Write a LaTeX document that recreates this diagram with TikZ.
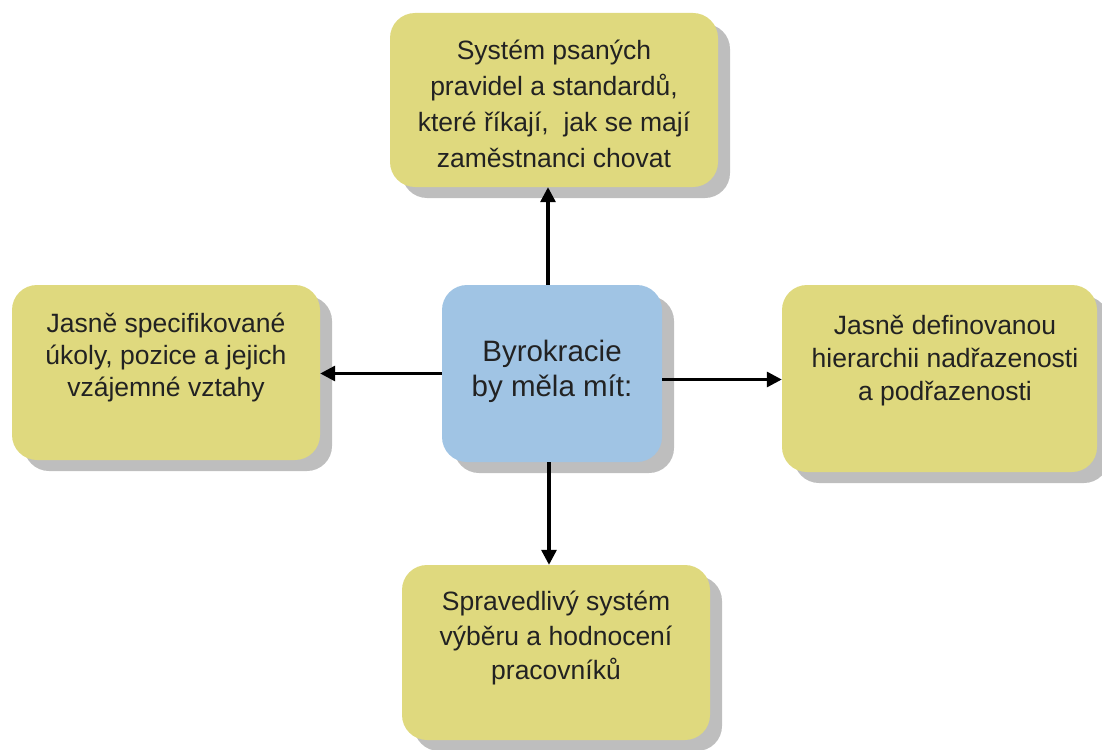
\documentclass[tikz,border=0pt]{standalone}
\usepackage{fontspec}
\setmainfont{Liberation Sans}
\usetikzlibrary{shadows,arrows.meta}

\definecolor{boxyellow}{HTML}{DFD97E}
\definecolor{boxblue}{HTML}{A0C4E4}
\definecolor{shadegray}{HTML}{BEBEBE}
\definecolor{inkdark}{HTML}{222222}

\tikzset{
  card/.style={draw=none, rounded corners=25pt, inner sep=0pt,
    drop shadow={shadow xshift=12pt, shadow yshift=-11pt, fill=shadegray, opacity=1}},
  yellowcard/.style={card, fill=boxyellow},
  bluecard/.style={card, fill=boxblue},
  cardtext/.style={align=center, text=inkdark, inner sep=0pt},
  link/.style={-{Triangle[length=15pt,width=15pt]}, line width=3.2pt, draw=black}
}

\begin{document}
\begin{tikzpicture}[x=1pt,y=-1pt]
  \useasboundingbox (0,0) rectangle (1102,749);

  % boxes
  \node[yellowcard, minimum width=328pt, minimum height=174pt] (top) at (554,100) {};
  \node[yellowcard, minimum width=308pt, minimum height=175pt] (left) at (166,372.5) {};
  \node[yellowcard, minimum width=315pt, minimum height=187pt] (right) at (939.5,378.5) {};
  \node[yellowcard, minimum width=308pt, minimum height=175pt] (bottom) at (556,652.5) {};
  \node[bluecard, minimum width=220pt, minimum height=177pt] (center) at (552,373.5) {};

  % connectors from the central box
  \draw[link] ([xshift=-4pt]center.north) -- ([xshift=-4pt]center.north |- top.south);
  \draw[link] ([xshift=-3pt]center.south) -- ([xshift=-3pt]center.south |- bottom.north);
  \draw[link] (center.west) -- (center.west -| left.east);
  \draw[link] ([yshift=-6pt]center.east) -- ([yshift=-6pt]center.east -| right.west);

  % texts
  \node[cardtext, font=\fontsize{26.5}{36}\selectfont] (ttop) at (554,104)
    {Systém psaných\\pravidel a standardů,\\které říkají,\ \ jak se mají\\zaměstnanci chovat};
  \node[cardtext, font=\fontsize{26.5}{32}\selectfont] (tleft) at (166,357)
    {Jasně specifikované\\úkoly, pozice a jejich\\vzájemné vztahy};
  \node[cardtext, font=\fontsize{29.5}{35}\selectfont] (tcenter) at (552,371)
    {Byrokracie\\by měla mít:};
  \node[cardtext, font=\fontsize{26.5}{33}\selectfont] (tright) at (945,361)
    {Jasně definovanou\\hierarchii nadřazenosti\\a podřazenosti};
  \node[cardtext, font=\fontsize{26.5}{34.5}\selectfont] (tbottom) at (556,638)
    {Spravedlivý systém\\výběru a hodnocení\\pracovníků};
\end{tikzpicture}
\end{document}
